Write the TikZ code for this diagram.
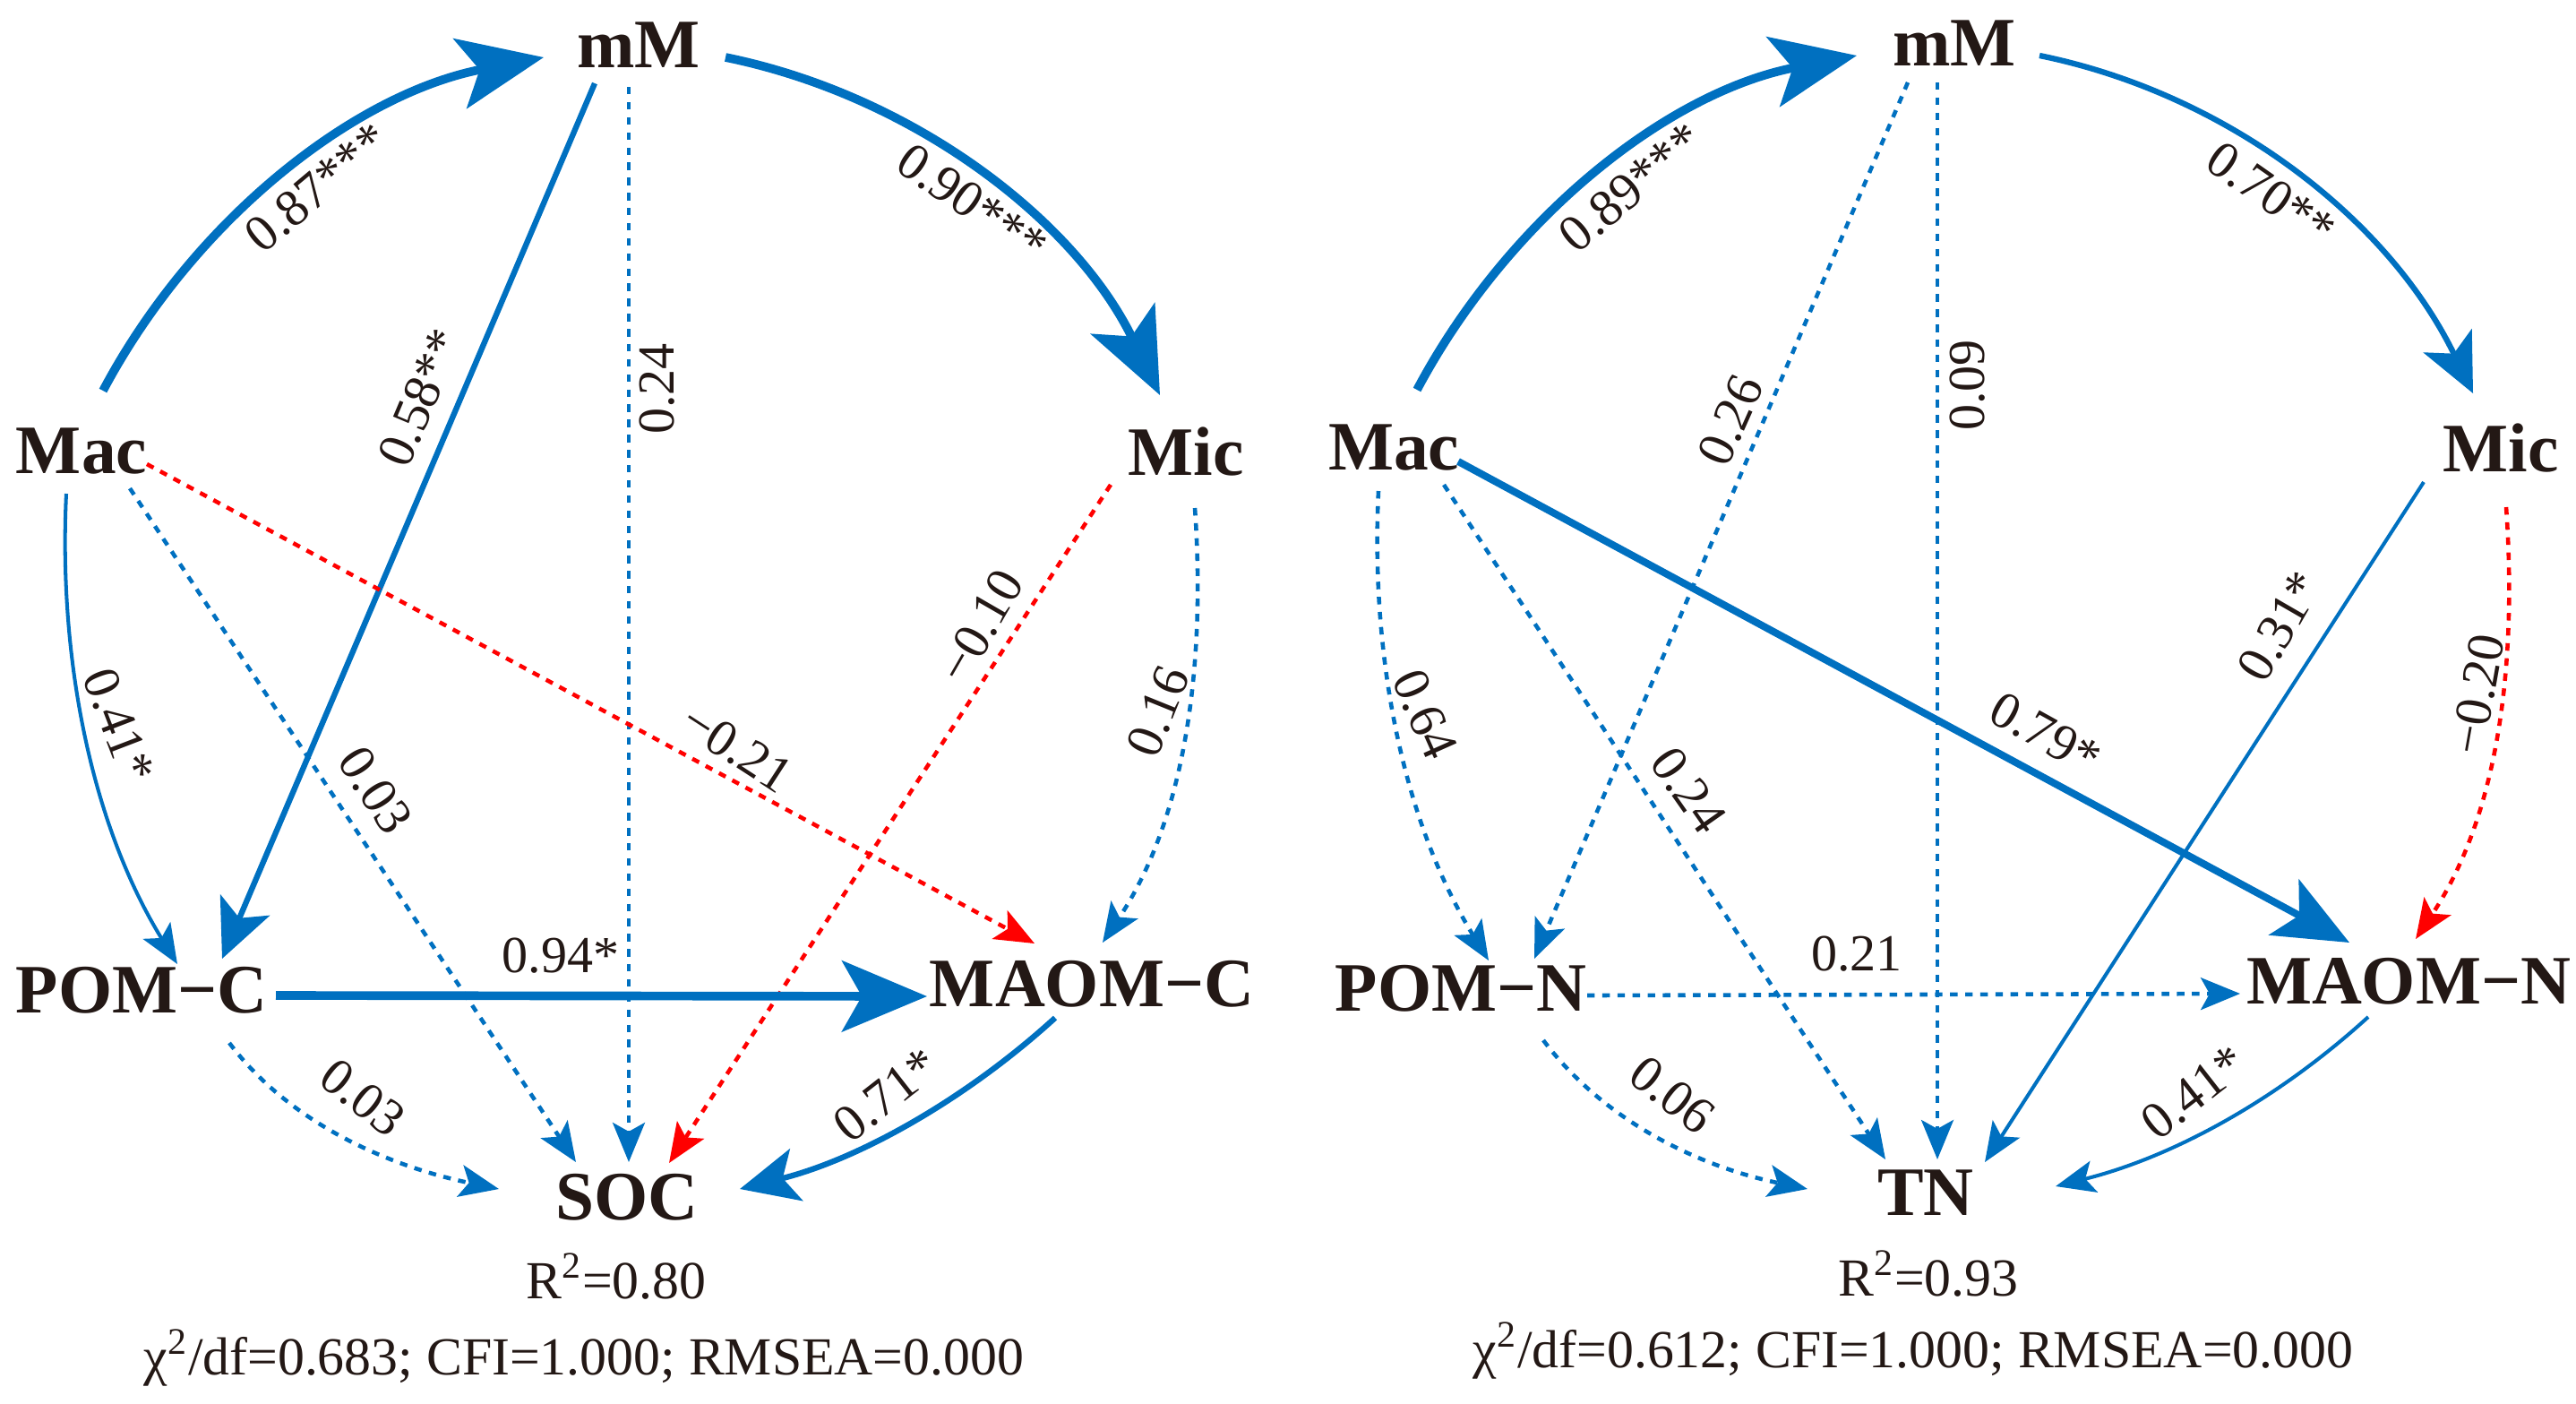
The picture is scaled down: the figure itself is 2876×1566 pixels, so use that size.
\documentclass[tikz,border=0pt]{standalone}
\usepackage{fontspec}
\setmainfont{Liberation Serif}
\usetikzlibrary{arrows.meta,calc}
\definecolor{sblue}{HTML}{0070C0}
\definecolor{sred}{HTML}{FF0000}
\definecolor{txt}{HTML}{231815}
\tikzset{
  var/.style={font=\fontsize{22}{24}\selectfont\bfseries, text=txt, inner sep=0pt},
  lab/.style={font=\fontsize{16.5}{18}\selectfont, text=txt, inner sep=0pt},
  stat/.style={font=\fontsize{17}{19}\selectfont, text=txt, inner sep=0pt, anchor=base},
  bluel/.style={draw=sblue},
  redl/.style={draw=sred},
  dsh/.style={line width=1.3pt, dash pattern=on 2.4pt off 2.4pt},
  wA/.style={line width=1.15pt},
  wB/.style={line width=1.8pt},
  wC/.style={line width=2.3pt},
  wD/.style={line width=2.75pt},
  hS/.style={-{Stealth[length=12.5pt,width=10.2pt,inset=2.8pt]}},
  hM/.style={-{Stealth[length=18.5pt,width=17pt,inset=4.5pt]}},
  hL/.style={-{Stealth[length=23.6pt,width=20pt,inset=5.5pt]}},
  hX/.style={-{Stealth[length=27pt,width=22.5pt,inset=6.3pt]}},
}
\begin{document}
\begin{tikzpicture}[x=0.01cm,y=-0.01cm]
\useasboundingbox (0,0) rectangle (2876,1566);

% ---------------- left panel ----------------
\node[var] (mM)    at (713,50)   {mM};
\node[var] (Mac)   at (91,504)   {Mac};
\node[var] (Mic)   at (1324,504) {Mic};
\node[var] (POMC)  at (158,1105) {POM−C};
\node[var] (MAOMC) at (1219,1098){MAOM−C};
\node[var] (SOC)   at (700,1336) {SOC};

\draw[bluel,wD,hX] ($(Mac)+(24,-68)$) .. controls ($(Mac)+(125,-258)$) and ($(mM)+(-318,55)$) .. ($(mM)+(-106,14)$);
\draw[bluel,wD,hX] ($(mM)+(97,14)$) .. controls ($(mM)+(308,57)$) and ($(Mic)+(-123,-257)$) .. ($(Mic)+(-29,-63)$);
\draw[bluel,wB,hM] ($(mM)+(-49,43)$) -- ($(POMC)+(90,-35)$);
\draw[bluel,dsh,hS] ($(mM)+(-11,47)$) -- ($(SOC)+(2,-39)$);
\draw[bluel,wA,hS] ($(Mac)+(-17,47)$) .. controls ($(Mac)+(-26,231)$) and ($(POMC)+(-56,-185)$) .. ($(POMC)+(40,-29)$);
\draw[bluel,dsh,hS] ($(Mac)+(54,41)$) -- ($(SOC)+(-57,-39)$);
\draw[redl,dsh,hS] ($(Mac)+(73,14)$) -- ($(MAOMC)+(-64,-45)$);
\draw[redl,dsh,hS] ($(Mic)+(-84,37)$) -- ($(SOC)+(47,-38)$);
\draw[bluel,dsh,hS] ($(Mic)+(10,63)$) .. controls ($(Mic)+(22,233)$) and ($(MAOMC)+(106,-187)$) .. ($(MAOMC)+(12,-46)$);
\draw[bluel,wD,hX] ($(POMC)+(150,6)$) -- ($(MAOMC)+(-184,14)$);
\draw[bluel,dsh,hS] ($(POMC)+(98,59)$) .. controls ($(POMC)+(169,153)$) and ($(SOC)+(-259,-33)$) .. ($(SOC)+(-143,-9)$);
\draw[bluel,wB,hM] ($(MAOMC)+(-41,38)$) .. controls ($(MAOMC)+(-142,130)$) and ($(SOC)+(258,-42)$) .. ($(SOC)+(126,-9)$);

\node[lab,rotate=40]  (l1)  at (354,209)  {0.87***};
\node[lab,rotate=-35] (l2)  at (1086,227) {0.90***};
\node[lab,rotate=67]  (l3)  at (469,444)  {0.58**};
\node[lab,rotate=90]  (l4)  at (734,434)  {0.24};
\node[lab,rotate=-69] (l5)  at (133,810)  {0.41*};
\node[lab,rotate=-57] (l6)  at (419,882)  {0.03};
\node[lab,rotate=-33] (l7)  at (823,835)  {−0.21};
\node[lab,rotate=60]  (l8)  at (1095,699) {−0.10};
\node[lab,rotate=68]  (l9)  at (1293,794) {0.16};
\node[lab]            (l10) at (626,1067) {0.94*};
\node[lab,rotate=-38] (l11) at (405,1225) {0.03};
\node[lab,rotate=38]  (l12) at (989,1222) {0.71*};

\node[stat] (r1) at (688,1449) {R\textsuperscript{2}=0.80};
\node[stat] (f1) at (652,1534) {χ\textsuperscript{2}/df=0.683; CFI=1.000; RMSEA=0.000};

% ---------------- right panel ----------------
\node[var] (mMb)   at (2182,48)  {mM};
\node[var] (Macb)  at (1556,500) {Mac};
\node[var] (Micb)  at (2792,500) {Mic};
\node[var] (POMN)  at (1631,1103){POM−N};
\node[var] (MAOMN) at (2689,1095){MAOM−N};
\node[var] (TN)    at (2150,1331){TN};

\draw[bluel,wD,hX] ($(Macb)+(26,-65)$) .. controls ($(Macb)+(127,-255)$) and ($(mMb)+(-321,55)$) .. ($(mMb)+(-109,14)$);
\draw[bluel,wB,hM] ($(mMb)+(95,14)$) .. controls ($(mMb)+(306,57)$) and ($(Micb)+(-125,-255)$) .. ($(Micb)+(-31,-61)$);
\draw[bluel,dsh,hS] ($(mMb)+(-52,44)$) -- ($(POMN)+(82,-33)$);
\draw[bluel,dsh,hS] ($(mMb)+(-19,44)$) -- ($(TN)+(13,-37)$);
\draw[bluel,dsh,hS] ($(Macb)+(-17,48)$) .. controls ($(Macb)+(-26,232)$) and ($(POMN)+(-65,-187)$) .. ($(POMN)+(31,-31)$);
\draw[bluel,dsh,hS] ($(Macb)+(56,41)$) -- ($(TN)+(-45,-37)$);
\draw[bluel,wC,hL] ($(Macb)+(72,15)$) -- ($(MAOMN)+(-66,-43)$);
\draw[bluel,wA,hS] ($(Micb)+(-86,38)$) -- ($(TN)+(66,-34)$);
\draw[redl,dsh,hS] ($(Micb)+(6,66)$) .. controls ($(Micb)+(18,236)$) and ($(MAOMN)+(102,-188)$) .. ($(MAOMN)+(8,-47)$);
\draw[bluel,dsh,hS] ($(POMN)+(141,8)$) -- ($(MAOMN)+(-188,14)$);
\draw[bluel,dsh,hS] ($(POMN)+(92,58)$) .. controls ($(POMN)+(163,152)$) and ($(TN)+(-248,-28)$) .. ($(TN)+(-132,-4)$);
\draw[bluel,wA,hS] ($(MAOMN)+(-45,40)$) .. controls ($(MAOMN)+(-146,132)$) and ($(TN)+(277,-40)$) .. ($(TN)+(145,-7)$);

\node[lab,rotate=40]  (m1)  at (1821,209) {0.89***};
\node[lab,rotate=-35] (m2)  at (2536,217) {0.70**};
\node[lab,rotate=66]  (m3)  at (1932,469) {0.26};
\node[lab,rotate=90]  (m4)  at (2197,430) {0.09};
\node[lab,rotate=-66] (m5)  at (1591,797) {0.64};
\node[lab,rotate=-55] (m6)  at (1885,882) {0.24};
\node[lab,rotate=-29] (m7)  at (2284,819) {0.79*};
\node[lab,rotate=60]  (m8)  at (2545,699) {0.31*};
\node[lab,rotate=80]  (m9)  at (2766,775) {−0.20};
\node[lab]            (m10) at (2073,1065){0.21};
\node[lab,rotate=-38] (m11) at (1867,1222){0.06};
\node[lab,rotate=38]  (m12) at (2449,1219){0.41*};

\node[stat] (r2) at (2153,1446) {R\textsuperscript{2}=0.93};
\node[stat] (f2) at (2136,1526) {χ\textsuperscript{2}/df=0.612; CFI=1.000; RMSEA=0.000};
\end{tikzpicture}
\end{document}
